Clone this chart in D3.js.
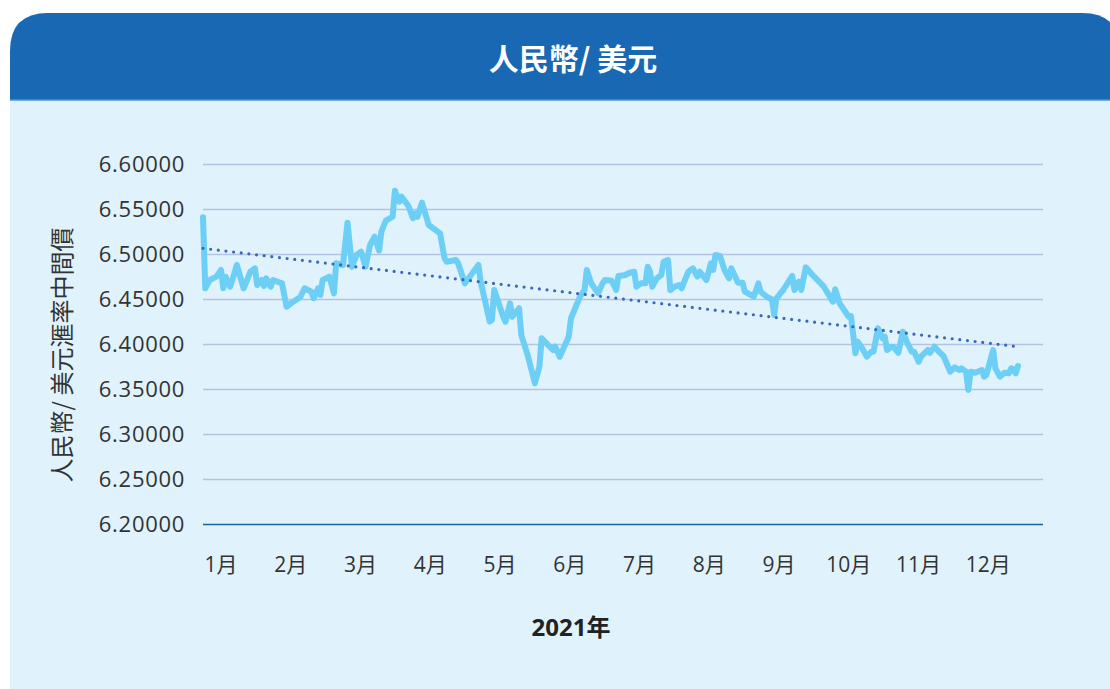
<!DOCTYPE html>
<html>
<head>
<meta charset="utf-8">
<script src="https://cdn.jsdelivr.net/npm/d3@7"></script>
<style>
  body { margin: 0; background: #fff; }
  svg { display: block; }
</style>
</head>
<body>
<div id="vis"></div>
<script>
const FRAME_WIDTH = 1110;
const FRAME_HEIGHT = 689;
const PLOT = {left: 203, right: 1043, top: 164, bottom: 524};

// data (2021 daily central parity, main turning points)
const dates = ['01-04','01-05','01-07','01-10','01-12','01-13','01-14','01-16','01-17','01-19',
  '01-22','01-25','01-27','01-28','01-30','01-31','02-01','02-03','02-04','02-06',
  '02-08','02-10','02-13','02-16','02-18','02-21','02-22','02-24','02-25','02-26',
  '03-01','03-03','03-04','03-07','03-09','03-11','03-13','03-15','03-17','03-19',
  '03-21','03-23','03-24','03-26','03-29','03-30','04-01','04-02','04-05','04-07',
  '04-08','04-09','04-11','04-14','04-19','04-21','04-22','04-26','04-27','04-30',
  '05-06','05-07','05-09','05-11','05-12','05-13','05-17','05-18','05-20','05-21',
  '05-24','05-25','05-28','05-31','06-02','06-03','06-08','06-09','06-11','06-15',
  '06-16','06-20','06-22','06-23','06-25','06-28','06-30','07-01','07-04','07-06',
  '07-07','07-10','07-12','07-14','07-15','07-17','07-19','07-20','07-21','07-22',
  '07-24','07-26','07-27','07-29','07-30','08-01','08-03','08-04','08-05','08-07',
  '08-09','08-11','08-12','08-15','08-17','08-18','08-19','08-21','08-23','08-25',
  '08-26','08-29','08-31','09-01','09-05','09-07','09-08','09-11','09-13','09-14',
  '09-15','09-18','09-22','09-23','09-25','09-26','09-28','10-01','10-06','10-10',
  '10-11','10-13','10-17','10-18','10-20','10-21','10-23','10-25','10-27','10-28',
  '10-30','11-01','11-02','11-03','11-05','11-06','11-08','11-10','11-12','11-14',
  '11-15','11-17','11-18','11-21','11-22','11-24','11-26','11-28','12-01','12-03',
  '12-05','12-06','12-08','12-09','12-10','12-12','12-15','12-16','12-17','12-20',
  '12-21','12-23','12-25','12-27','12-28','12-29','12-30','12-31'];

const rates = [6.5408,6.4620,6.4711,6.4748,6.4822,6.4619,6.4748,6.4637,6.4711,6.4878,
  6.4619,6.4803,6.4841,6.4656,6.4711,6.4644,6.4730,6.4637,6.4711,6.4692,
  6.4674,6.4414,6.4470,6.4519,6.4619,6.4581,6.4508,6.4619,6.4544,6.4711,
  6.4748,6.4563,6.4897,6.4878,6.5348,6.4859,6.4989,6.5026,6.4859,6.5100,
  6.5192,6.5037,6.5248,6.5370,6.5414,6.5703,6.5581,6.5637,6.5533,6.5397,
  6.5452,6.5414,6.5570,6.5322,6.5230,6.4952,6.4914,6.4933,6.4897,6.4674,
  6.4878,6.4692,6.4470,6.4248,6.4267,6.4600,6.4303,6.4248,6.4452,6.4303,
  6.4397,6.4100,6.3859,6.3563,6.3748,6.4063,6.3933,6.3970,6.3859,6.4081,
  6.4286,6.4526,6.4600,6.4822,6.4674,6.4563,6.4674,6.4711,6.4703,6.4600,
  6.4756,6.4767,6.4792,6.4803,6.4637,6.4674,6.4674,6.4859,6.4803,6.4637,
  6.4730,6.4767,6.4914,6.4933,6.4600,6.4637,6.4656,6.4619,6.4681,6.4803,
  6.4841,6.4748,6.4803,6.4711,6.4897,6.4822,6.4989,6.4978,6.4822,6.4730,
  6.4841,6.4681,6.4681,6.4581,6.4526,6.4674,6.4581,6.4519,6.4497,6.4322,
  6.4508,6.4600,6.4756,6.4600,6.4692,6.4600,6.4852,6.4767,6.4637,6.4470,
  6.4608,6.4452,6.4303,6.4311,6.3897,6.4026,6.3952,6.3859,6.3914,6.3914,
  6.4174,6.4063,6.4081,6.3933,6.3970,6.3963,6.3903,6.4137,6.4008,6.3914,
  6.3914,6.3803,6.3859,6.3933,6.3903,6.3970,6.3914,6.3867,6.3692,6.3741,
  6.3711,6.3730,6.3692,6.3489,6.3692,6.3681,6.3711,6.3637,6.3656,6.3933,
  6.3730,6.3637,6.3681,6.3674,6.3730,6.3719,6.3674,6.3756];

// dotted trend line, start and end values
const trend = [6.5063, 6.3970];

const months = ['1月','2月','3月','4月','5月','6月','7月','8月','9月','10月','11月','12月'];
const yTicks = [6.20, 6.25, 6.30, 6.35, 6.40, 6.45, 6.50, 6.55, 6.60];

const TITLE = '人民幣/ 美元';
const Y_TITLE = '人民幣/ 美元滙率中間價';
const X_TITLE = '2021年';

const parseDate = d3.timeParse('%Y-%m-%d');
const data = dates.map((d, i) => ({date: parseDate('2021-' + d), value: rates[i]}));

const svg = d3.select('#vis')
  .append('svg')
    .attr('width', FRAME_WIDTH)
    .attr('height', FRAME_HEIGHT);

// card: light body + blue header with rounded top corners
const CARD = {left: 10, right: 1120, top: 13, head: 100, r: 38};
svg.append('path')
  .attr('d', `M${CARD.left},${FRAME_HEIGHT} V${CARD.top + CARD.r} Q${CARD.left},${CARD.top} ${CARD.left + CARD.r},${CARD.top} H${CARD.right - CARD.r} Q${CARD.right},${CARD.top} ${CARD.right},${CARD.top + CARD.r} V${FRAME_HEIGHT} Z`)
  .attr('fill', '#e0f2fb');
svg.append('path')
  .attr('d', `M${CARD.left},${CARD.head} V${CARD.top + CARD.r} Q${CARD.left},${CARD.top} ${CARD.left + CARD.r},${CARD.top} H${CARD.right - CARD.r} Q${CARD.right},${CARD.top} ${CARD.right},${CARD.top + CARD.r} V${CARD.head} Z`)
  .attr('fill', '#1868b4');
svg.append('line')
  .attr('x1', CARD.left).attr('x2', FRAME_WIDTH)
  .attr('y1', CARD.head).attr('y2', CARD.head)
  .attr('stroke', '#4d93d3').attr('stroke-width', 1.5);

svg.append('text')
  .attr('x', 573)
  .attr('y', 70)
  .attr('text-anchor', 'middle')
  .attr('fill', '#fff')
  .attr('font-family', '"Noto Sans CJK TC", "Noto Sans", sans-serif')
  .attr('font-weight', 'bold')
  .attr('font-size', '30px')
  .text(TITLE);

// scales
const Y_SCALE = d3.scaleLinear()
  .domain([6.20, 6.60])
  .range([PLOT.bottom, PLOT.top]);

const X_SCALE = d3.scaleTime()
  .domain([parseDate('2021-01-04'), parseDate('2021-12-31')])
  .range([203, 1018]);

const MONTH_SCALE = d3.scaleBand()
  .domain(months)
  .range([186, 1023]);

// y axis with gridlines
const yAxis = svg.append('g')
  .attr('transform', 'translate(' + PLOT.left + ',0)')
  .call(d3.axisLeft(Y_SCALE)
    .tickValues(yTicks)
    .tickSize(-(PLOT.right - PLOT.left))
    .tickPadding(18)
    .tickFormat(d3.format('.5f')));
yAxis.select('.domain').remove();
yAxis.selectAll('line')
  .attr('stroke', d => d === 6.20 ? '#1f5ea8' : '#b4c3e2')
  .attr('stroke-width', d => d === 6.20 ? 1.5 : 1.3);
yAxis.selectAll('text')
  .attr('fill', '#333')
  .attr('font-family', '"Open Sans", sans-serif')
  .attr('font-size', '22px')
  .attr('letter-spacing', '0.7px');

// x axis month labels
const xAxis = svg.append('g')
  .attr('transform', 'translate(0,' + 557 + ')')
  .call(d3.axisBottom(MONTH_SCALE).tickSize(0).tickPadding(0));
xAxis.select('.domain').remove();
xAxis.selectAll('text')
  .attr('fill', '#333')
  .attr('font-family', '"Open Sans", "Noto Sans CJK TC", sans-serif')
  .attr('font-size', '21px');

// axis titles
svg.append('text')
  .attr('x', 571)
  .attr('y', 636)
  .attr('text-anchor', 'middle')
  .attr('fill', '#222')
  .attr('font-family', '"Open Sans", "Noto Sans CJK TC", sans-serif')
  .attr('font-weight', 'bold')
  .attr('font-size', '24px')
  .text(X_TITLE);

svg.append('text')
  .attr('transform', 'translate(71,355) rotate(-90)')
  .attr('text-anchor', 'middle')
  .attr('fill', '#333')
  .attr('font-family', '"Noto Sans CJK TC", sans-serif')
  .attr('font-size', '24px')
  .text(Y_TITLE);

// rate line
svg.append('path')
  .datum(data)
  .attr('fill', 'none')
  .attr('stroke', '#6dcff6')
  .attr('stroke-width', 6)
  .attr('stroke-linejoin', 'round')
  .attr('stroke-linecap', 'round')
  .attr('d', d3.line()
    .x(d => X_SCALE(d.date))
    .y(d => Y_SCALE(d.value)));

// dotted trend line
svg.append('line')
  .attr('x1', X_SCALE(data[0].date))
  .attr('x2', X_SCALE(data[data.length - 1].date))
  .attr('y1', Y_SCALE(trend[0]))
  .attr('y2', Y_SCALE(trend[1]))
  .attr('stroke', '#3a68bd')
  .attr('stroke-width', 3.2)
  .attr('stroke-linecap', 'round')
  .attr('stroke-dasharray', '0 7.7');
</script>
</body>
</html>
